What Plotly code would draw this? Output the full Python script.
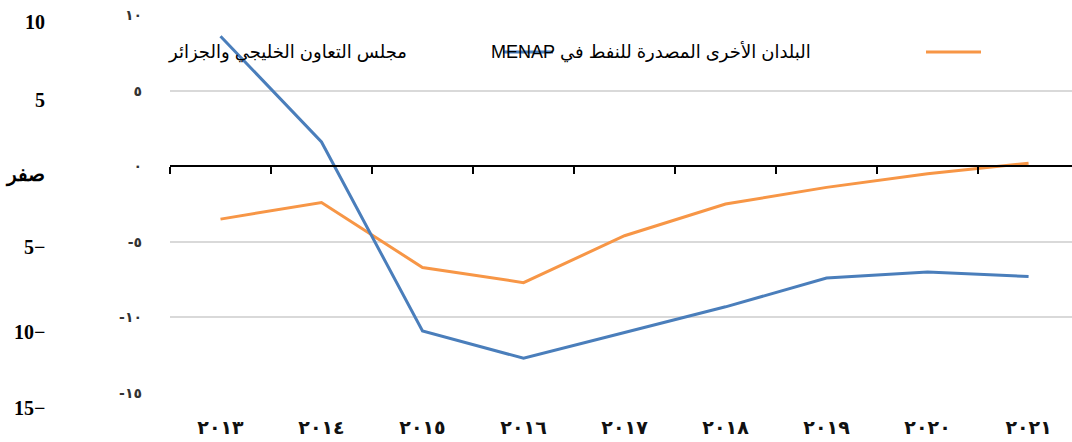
import plotly.graph_objects as go

# ---- data ----
years = ["٢٠١٣", "٢٠١٤", "٢٠١٥", "٢٠١٦", "٢٠١٧", "٢٠١٨", "٢٠١٩", "٢٠٢٠", "٢٠٢١"]
gcc_algeria = [8.6, 1.6, -10.9, -12.7, -11.0, -9.3, -7.4, -7.0, -7.3]
other_menap = [-3.5, -2.4, -6.7, -7.7, -4.6, -2.5, -1.4, -0.5, 0.2]
series_names = ["مجلس التعاون الخليجي والجزائر", "\u202bالبلدان الأخرى المصدرة للنفط في MENAP\u202c"]
y_ticks = [10, 5, 0, -5, -10, -15]
y_tick_text = ["١٠", "٥", "٠", "-٥", "-١٠", "-١٥"]
outer_labels = ["10", "5", "صفر", "5−", "10−", "15−"]

# ---- style ----
BLUE = "#4a7ebb"
ORANGE = "#f79646"
W, H = 1072, 442
L, R, T, B = 170, 0, 15, 49
PW, PH = W - L - R, H - T - B

def px_x(px):
    return (px - L) / PW

def px_y(py):
    return 1 - (py - T) / PH

xs = list(range(len(years)))

fig = go.Figure()
fig.add_trace(go.Scatter(x=xs, y=other_menap, mode="lines", name=series_names[1],
                         line=dict(color=ORANGE, width=3), showlegend=False))
fig.add_trace(go.Scatter(x=xs, y=gcc_algeria, mode="lines", name=series_names[0],
                         line=dict(color=BLUE, width=3), showlegend=False))
# invisible trace to carry the zero-line axis with boundary ticks
fig.add_trace(go.Scatter(x=[xs[0]], y=[0], xaxis="x2", mode="markers",
                         marker=dict(opacity=0), showlegend=False, hoverinfo="skip"))

fig.update_layout(
    width=W, height=H,
    margin=dict(l=L, r=R, t=T, b=B),
    paper_bgcolor="white", plot_bgcolor="white",
    xaxis=dict(range=[-0.5, 8.43], tickmode="array", tickvals=xs, ticktext=years,
               showgrid=False, zeroline=False, showline=False, ticks="",
               ticklabelstandoff=21,
               tickfont=dict(family="DejaVu Sans", size=19, color="#111", weight="bold")),
    xaxis2=dict(overlaying="x", matches="x", anchor="free", position=15 / 25,
                tickmode="array", tickvals=[i - 0.5 for i in range(len(years) + 1)],
                ticks="outside", ticklen=7, tickwidth=1.5, tickcolor="black",
                showticklabels=False, showgrid=False, zeroline=False,
                showline=True, linecolor="black", linewidth=1.5),
    yaxis=dict(range=[-15, 10], tickmode="array", tickvals=y_ticks, ticktext=y_tick_text,
               showgrid=True, gridcolor="#d9d9d9", gridwidth=1.5,
               zeroline=True, zerolinecolor="black", zerolinewidth=1.5,
               showline=False, ticks="", ticklabelstandoff=27,
               tickfont=dict(family="DejaVu Sans", size=14, color="#333", weight="bold")),
)

# outer bold labels on the far left
yshifts = [-7, -9, -9, -5, -15, -15]
for v, txt, ys in zip(y_ticks, outer_labels, yshifts):
    fig.add_annotation(xref="paper", yref="y", x=0, y=v, text=txt, showarrow=False,
                       xanchor="right", yanchor="middle", xshift=-123, yshift=ys,
                       font=dict(family="Liberation Serif", size=20, color="black", weight="bold"))

# RTL legend: swatches (lines) and texts
legend_y = px_y(52)
fig.add_shape(type="line", xref="paper", yref="paper", x0=px_x(503), x1=px_x(553),
              y0=legend_y, y1=legend_y, line=dict(color=BLUE, width=3))
fig.add_shape(type="line", xref="paper", yref="paper", x0=px_x(926), x1=px_x(981),
              y0=legend_y, y1=legend_y, line=dict(color=ORANGE, width=3))
fig.add_annotation(xref="paper", yref="paper", x=px_x(409), y=legend_y, text=series_names[0],
                   showarrow=False, xanchor="right", yanchor="middle",
                   font=dict(family="Arial, DejaVu Sans", size=18, color="black"))
fig.add_annotation(xref="paper", yref="paper", x=px_x(813), y=legend_y, text=series_names[1],
                   showarrow=False, xanchor="right", yanchor="middle",
                   font=dict(family="Arial, DejaVu Sans", size=18, color="black"))

fig.write_html("out.html", config={"displayModeBar": False},
               post_script="document.body.style.margin='0';")
